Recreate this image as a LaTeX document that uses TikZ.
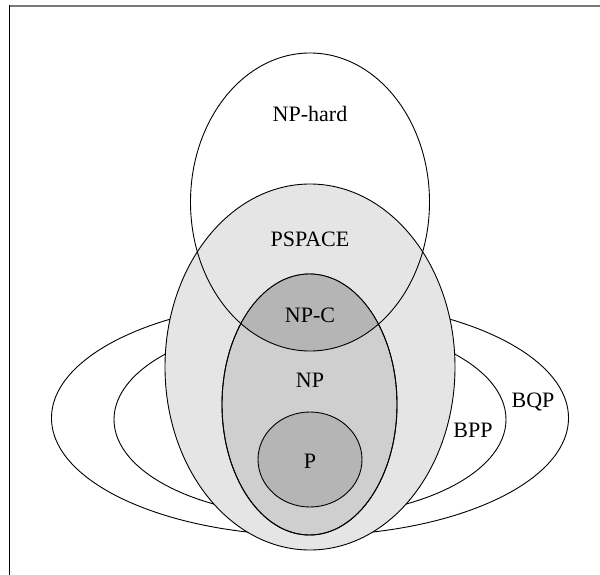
\documentclass[tikz,border=0pt]{standalone}
\usepackage{fontspec}
\setmainfont{Liberation Serif}
\definecolor{framegray}{gray}{0.47}
\begin{document}
\begin{tikzpicture}[x=1pt,y=-1pt,
  outline/.style={draw=black,line width=0.9pt},
  lbl/.style={font=\fontsize{22}{24}\selectfont,inner sep=0pt,anchor=base}]
\useasboundingbox (0,0) rectangle (600,575);
\fill[white] (0,0) rectangle (600,575);
% frame
\draw[framegray,line width=1.8pt] (9,5.7) -- (600,5.7);
\draw[black,line width=1.3pt] (9.3,5.2) -- (9.3,575);
% named centres
\coordinate (bqp) at (310,418);
\coordinate (bpp) at (310,419.5);
\coordinate (pspace) at (310,367);
\coordinate (nphard) at (310,202);
\coordinate (np) at (309.5,404.5);
\coordinate (p) at (310,459.5);
% BQP, BPP
\draw[outline] (bqp) ellipse [x radius=258.5,y radius=117.5];
\draw[outline] (bpp) ellipse [x radius=196,y radius=97];
% PSPACE
\filldraw[outline,fill=black!10!white] (pspace) ellipse [x radius=145,y radius=183];
% NP
\filldraw[outline,fill=black!19!white] (np) ellipse [x radius=87.5,y radius=130.5];
% NP-C
\begin{scope}
  \clip (np) ellipse [x radius=87.5,y radius=130.5];
  \fill[black!29!white] (nphard) ellipse [x radius=119.5,y radius=149];
\end{scope}
\draw[outline] (nphard) ellipse [x radius=119.5,y radius=149];
\draw[outline] (np) ellipse [x radius=87.5,y radius=130.5];
% P
\filldraw[outline,fill=black!29!white] (p) ellipse [x radius=52,y radius=47.5];
% labels
\node[lbl] (lnphard) at (310,122) {NP-hard};
\node[lbl] (lpspace) at (310,246) {PSPACE};
\node[lbl] (lnpc) at (310,322) {NP-C};
\node[lbl] (lnp) at (310,387.5) {NP};
\node[lbl] (lp) at (310,468) {P};
\node[lbl] (lbpp) at (473,437.5) {BPP};
\node[lbl] (lbqp) at (533,407.5) {BQP};
\end{tikzpicture}
\end{document}
